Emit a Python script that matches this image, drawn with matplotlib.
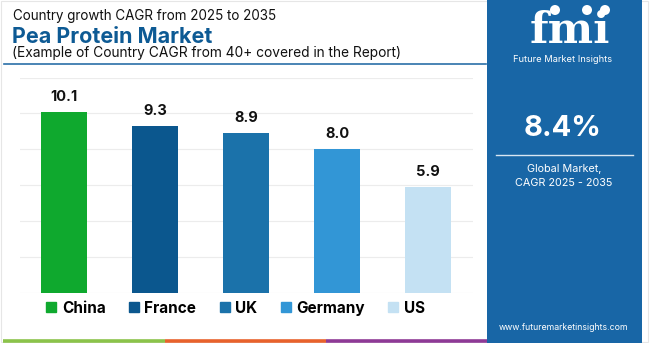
import matplotlib.pyplot as plt
from matplotlib.lines import Line2D
from matplotlib.patches import Rectangle

# data
countries = ['China', 'France', 'UK', 'Germany', 'US']
cagr = [10.1, 9.3, 8.9, 8.0, 5.9]
bar_colors = ['#0fa92e', '#0b578e', '#1b72aa', '#3296d6', '#c4e1f3']
global_cagr = '8.4%'

FONT = 'Inter'
TITLE_BLUE = '#0d5a94'
PANEL_BLUE = '#1866a6'

W, H = 650, 343
fig = plt.figure(figsize=(W / 100, H / 100), dpi=100)
fig.patch.set_facecolor('white')


def fx(px):
    return px / W


def fy(py):
    return 1 - py / H


# faint outer frame
fig.patches.append(Rectangle((fx(1), fy(342)), fx(647), 341 / H, transform=fig.transFigure,
                             fill=False, edgecolor='#e6e6e6', lw=0.8))

# titles
fig.text(fx(13), fy(16), 'Country growth CAGR from 2025 to 2035', fontsize=9.7,
         family=FONT, color='#111111', va='center')
fig.text(fx(12), fy(37), 'Pea Protein Market', fontsize=15.5, family=FONT,
         fontweight='bold', color=TITLE_BLUE, va='center')
fig.text(fx(12), fy(53), '(Example of Country CAGR from 40+ covered in the Report)',
         fontsize=9.9, family=FONT, color='#111111', va='center')
fig.add_artist(Line2D([fx(4), fx(486)], [fy(63.5), fy(63.5)], color='#2a6fa8', lw=1.2))

# chart
ax = fig.add_axes([fx(20), fy(293), fx(453), (293 - 77.6) / H])
x = list(range(len(countries)))
bars = ax.bar(x, cagr, width=0.505, color=bar_colors, zorder=3)
for xi, v in zip(x, cagr):
    ax.text(xi, v + 0.45, f'{v:.1f}', ha='center', va='bottom', fontsize=10.5,
            family=FONT, fontweight='bold', color='#111111', clip_on=False)
ax.set_xlim(-0.484, 4.494)
ax.set_ylim(0, 12)
ax.set_yticks([0, 2, 4, 6, 8, 10, 12])
ax.yaxis.grid(True, color='#ececec', lw=0.8, zorder=0)
ax.tick_params(left=False, bottom=False, labelleft=False, labelbottom=False)
for s in ax.spines.values():
    s.set_visible(False)

handles = [Line2D([], [], marker='s', ls='none', markersize=6.5, color=c) for c in bar_colors]
leg = ax.legend(handles, countries, ncol=5, loc='upper left', bbox_to_anchor=(0.045, -0.008),
                frameon=False, handlelength=0.6, handletextpad=0.4, columnspacing=1.55,
                borderaxespad=0, prop={'family': FONT, 'weight': 'bold', 'size': 11})

# bottom colour strip
for x0, x1, c in [(3, 165, '#8bc34a'), (165, 326, '#e8622c'), (326, 487, '#8e3a96')]:
    fig.add_artist(Line2D([fx(x0), fx(x1)], [fy(340.5), fy(340.5)], color=c, lw=2.6,
                          solid_capstyle='butt'))

# right panel
fig.patches.append(Rectangle((fx(487), 0), fx(155), 1, transform=fig.transFigure,
                             facecolor=PANEL_BLUE, edgecolor='none'))
fig.text(fx(570), fy(43), 'fmi', fontsize=31, family='DejaVu Serif', fontweight='bold',
         color='white', ha='center', va='baseline')
# stripes across the logo letters
for yy in range(16, 44, 3):
    fig.add_artist(Line2D([fx(505), fx(635)], [fy(yy), fy(yy)], color=PANEL_BLUE, lw=0.6))
for cx in [555, 587, 605]:
    fig.patches.append(plt.Circle((cx, H - 10), 5, transform=None,
                                  facecolor='white', edgecolor='none'))
fig.text(fx(563), fy(59), 'Future Market Insights', fontsize=6.7, family=FONT,
         color='white', ha='center', va='center')
fig.text(fx(563), fy(129), global_cagr, fontsize=21, family=FONT, fontweight='bold',
         color='white', ha='center', va='center')
fig.add_artist(Line2D([fx(496), fx(633)], [fy(155), fy(155)], color='#d8e6f2', lw=1))
fig.text(fx(564), fy(176), 'Global Market,\nCAGR 2025 - 2035', fontsize=7.8, family=FONT,
         color='white', ha='center', va='center', linespacing=1.45)
fig.text(fx(564), fy(328), 'www.futuremarketinsights.com', fontsize=6.3, family=FONT,
         color='white', ha='center', va='center')

fig.savefig('out.png', dpi=100)
